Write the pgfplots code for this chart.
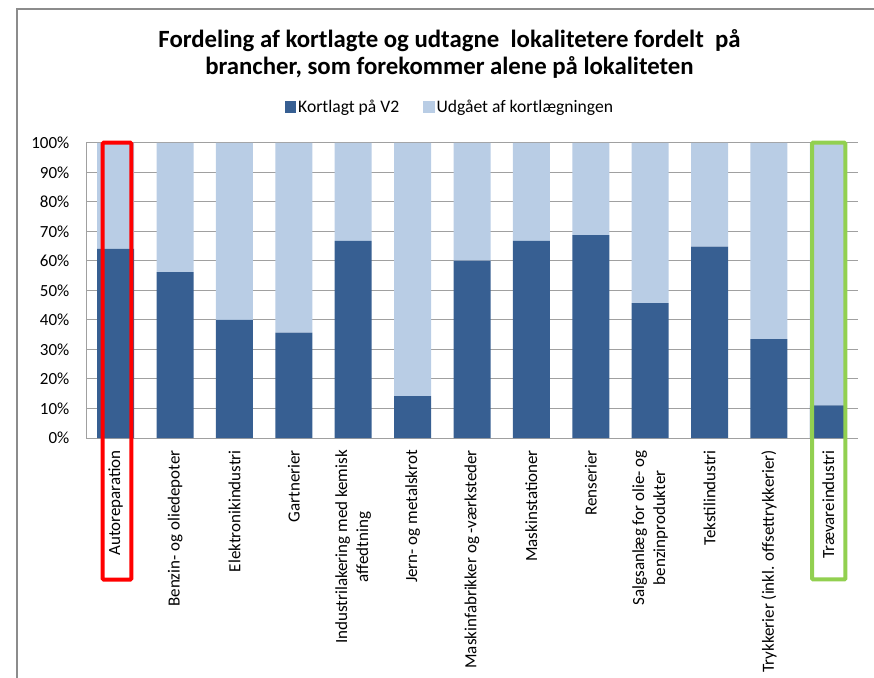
\documentclass[border=0pt]{standalone}
\usepackage{pgfplots}
\pgfplotsset{compat=1.18}
\usepackage{fontspec}
\setmainfont{Carlito}
\definecolor{darkbar}{HTML}{375F92}
\definecolor{lightbar}{HTML}{B9CDE5}
\definecolor{gridc}{HTML}{A0A0A0}
\definecolor{frame}{HTML}{8C8C8C}
\definecolor{boxgreen}{HTML}{92D050}
\begin{document}
\begin{tikzpicture}
\path[use as bounding box] (0pt,0pt) rectangle (874pt,677pt);
\draw[frame, line width=1.5pt] (17pt,-5pt) -- (17pt,668pt) -- (880pt,668pt);
\node[font=\fontsize{24.8}{27.5}\selectfont\bfseries, align=center] at (449.5pt,623pt)
  {Fordeling af kortlagte og udtagne\ \ lokalitetere fordelt\ \ på\\brancher, som forekommer alene på lokaliteten};
\begin{axis}[
  at={(86pt,239pt)}, anchor=south west,
  scale only axis, width=772pt, height=295pt,
  ybar stacked, bar width=37pt,
  xmin=-0.5, xmax=12.5, ymin=0, ymax=100,
  xtick={0,...,12},
  xticklabels={Autoreparation, Benzin- og oliedepoter, Elektronikindustri, Gartnerier,
    {Industrilakering med kemisk\\affedtning}, Jern- og metalskrot,
    Maskinfabrikker og -værksteder, Maskinstationer, Renserier,
    {Salgsanlæg for olie- og\\benzinprodukter}, Tekstilindustri,
    {Trykkerier (inkl. offsettrykkerier)}, Trævareindustri},
  xticklabel style={rotate=90, anchor=east, align=center, inner sep=0pt, xshift=-12pt,
    font=\fontsize{17}{21}\selectfont},
  ytick={0,10,...,100},
  yticklabel={\pgfmathprintnumber{\tick}\%},
  yticklabel style={inner sep=0pt, xshift=-16.5pt, font=\fontsize{17}{20}\selectfont},
  /pgf/number format/assume math mode=true,
  major tick length=0pt,
  ymajorgrids, grid style={gridc, line width=1pt},
  axis x line=bottom, axis y line=left,
  axis line style={-, draw=gridc, line width=1pt},
  clip=false,
  legend columns=2,
  legend style={at={(0.4715,1.122)}, anchor=center, draw=none, fill=none,
    font=\fontsize{17.6}{20}\selectfont, inner sep=0pt,
    /tikz/every even column/.append style={column sep=22pt}},
]
\addplot+[fill=darkbar, draw=none,
  legend image code/.code={\fill[darkbar] (0pt,-5.7pt) rectangle (11.3pt,5.7pt);}]
  coordinates {(0,64.1) (1,56.2) (2,40.0) (3,35.7) (4,66.8) (5,14.2) (6,60.1)
               (7,66.8) (8,68.8) (9,45.7) (10,64.9) (11,33.5) (12,11.1)};
\addplot+[fill=lightbar, draw=none,
  legend image code/.code={\fill[lightbar] (0pt,-5.7pt) rectangle (11.3pt,5.7pt);}]
  coordinates {(0,35.9) (1,43.8) (2,60.0) (3,64.3) (4,33.2) (5,85.8) (6,39.9)
               (7,33.2) (8,31.2) (9,54.3) (10,35.1) (11,66.5) (12,88.9)};
\legend{Kortlagt på V2, Udgået af kortlægningen}
\coordinate (r1) at (axis cs:-0.219,100.1);
\coordinate (r2) at (axis cs:0.263,-48.0);
\coordinate (g1) at (axis cs:11.726,100.1);
\coordinate (g2) at (axis cs:12.287,-47.9);
\end{axis}
\draw[red, line width=4pt, rounded corners=1pt] (r1) rectangle (r2);
\draw[boxgreen, line width=4pt, rounded corners=1pt] (g1) rectangle (g2);
\end{tikzpicture}
\end{document}
